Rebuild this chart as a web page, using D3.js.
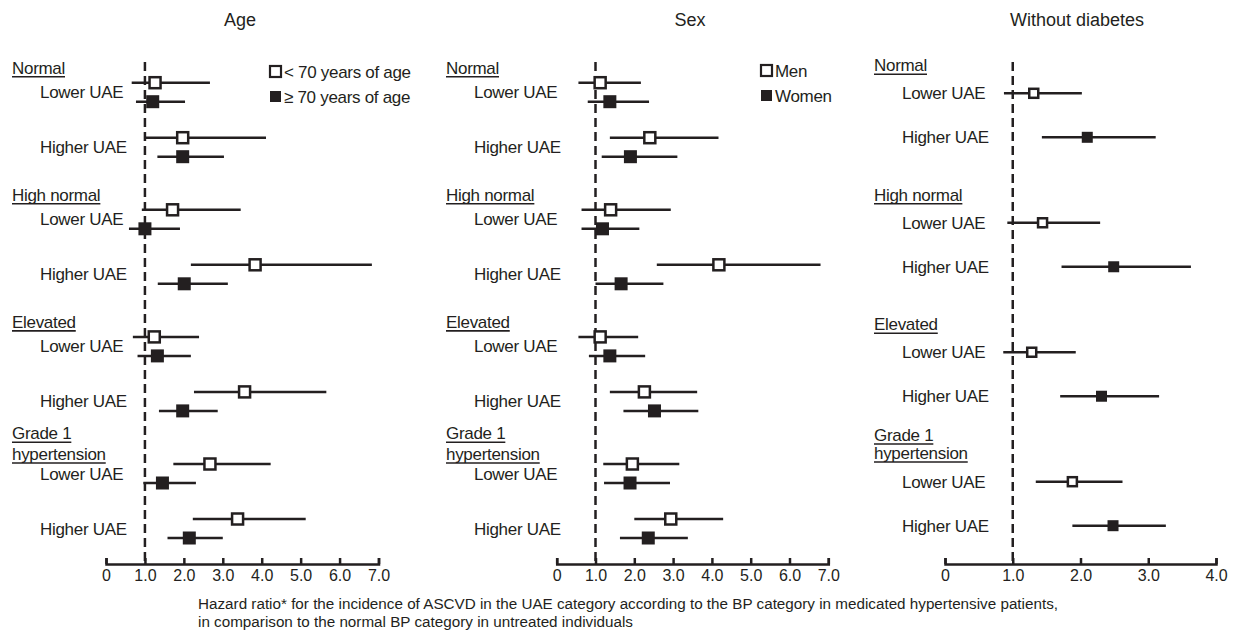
<html>
<head>
<script src="https://cdnjs.cloudflare.com/ajax/libs/d3/7.8.5/d3.min.js"></script>
<style>
  body { margin: 0; background: #fff; }
  text { font-family: "Liberation Sans", Arial, sans-serif; fill: #231f20; }
</style>
</head>
<body>
<svg width="1237" height="631"></svg>
<script>
// categories
const groups = [['Normal'], ['High normal'], ['Elevated'], ['Grade 1', 'hypertension']]
const rows = ['Lower UAE', 'Higher UAE']

// Age panel: 8 rows each (group x lower/higher)
const youngHR = [1.26, 1.97, 1.71, 3.83, 1.24, 3.56, 2.67, 3.38]
const youngLo = [0.66, 0.98, 0.92, 2.18, 0.69, 2.26, 1.73, 2.23]
const youngHi = [2.67, 4.11, 3.46, 6.83, 2.39, 5.66, 4.23, 5.13]
const oldHR = [1.20, 1.97, 1.00, 2.01, 1.32, 1.97, 1.45, 2.14]
const oldLo = [0.77, 1.32, 0.59, 1.33, 0.81, 1.36, 0.96, 1.58]
const oldHi = [2.03, 3.03, 1.90, 3.13, 2.18, 2.87, 2.31, 3.00]

// Sex panel
const menHR = [1.12, 2.40, 1.39, 4.18, 1.12, 2.26, 1.95, 2.94]
const menLo = [0.56, 1.37, 0.64, 2.58, 0.56, 1.37, 1.20, 2.00]
const menHi = [2.17, 4.17, 2.94, 6.80, 2.10, 3.62, 3.16, 4.29]
const womenHR = [1.37, 1.90, 1.18, 1.66, 1.37, 2.52, 1.89, 2.36]
const womenLo = [0.80, 1.16, 0.64, 1.00, 0.83, 1.72, 1.22, 1.63]
const womenHi = [2.38, 3.11, 2.13, 2.75, 2.28, 3.65, 2.92, 3.38]

// Without diabetes panel
const noDmHR = [1.31, 2.10, 1.44, 2.49, 1.28, 2.31, 1.88, 2.48]
const noDmLo = [0.87, 1.43, 0.92, 1.72, 0.86, 1.70, 1.34, 1.88]
const noDmHi = [2.02, 3.11, 2.29, 3.63, 1.93, 3.16, 2.62, 3.26]

const ticks7 = [0, 1, 2, 3, 4, 5, 6, 7]
const ticks4 = [0, 1, 2, 3, 4]

const ink = '#231f20'
const svg = d3.select('svg')
const axisY = 564
const dashTop = 62

const fmt = v => v === 0 ? '0' : v.toFixed(1)

const underlinedLabel = (g, x, y, txt) => {
  const t = g.append('text').attr('x', x).attr('y', y).attr('font-size', 17)
    .attr('letter-spacing', '-0.3').text(txt)
  const w = t.node().getComputedTextLength()
  g.append('line').attr('x1', x).attr('x2', x + w).attr('y1', y + 3).attr('y2', y + 3)
    .attr('stroke', ink).attr('stroke-width', 1.6)
}

const drawPanel = p => {
  const g = svg.append('g')
  const x = d3.scaleLinear().domain([0, p.max]).range(p.range)

  g.append('text').attr('x', p.titleX).attr('y', 26).attr('text-anchor', 'middle')
    .attr('font-size', 18).text(p.title)

  // axis (ticks pointing up)
  const axis = d3.axisBottom(x).tickValues(p.ticks).tickFormat(fmt)
    .tickSizeInner(-6).tickSizeOuter(-6).tickPadding(6)
  const ax = g.append('g').attr('transform', `translate(0,${axisY})`).call(axis)
  ax.select('.domain').attr('stroke', ink).attr('stroke-width', 2.5)
  ax.selectAll('.tick line').attr('stroke', ink).attr('stroke-width', 2.5)
  ax.selectAll('.tick text').attr('font-size', 16).attr('fill', ink)
    .attr('font-family', '"Liberation Sans", Arial, sans-serif')

  // reference line at HR = 1
  g.append('line').attr('x1', x(1)).attr('x2', x(1)).attr('y1', dashTop).attr('y2', axisY)
    .attr('stroke', ink).attr('stroke-width', 2.5).attr('stroke-dasharray', '9,5')

  const gy = d3.scaleLinear().domain([0, 3]).range(p.yRange)

  // labels
  groups.forEach((lines, gi) => {
    const base = gy(gi)
    lines.forEach((l, li) => {
      const off = lines.length === 1 ? p.groupOff : p.groupOff2[li]
      underlinedLabel(g, p.labelX, base + off + 6, l)
    })
    rows.forEach((r, ri) => {
      g.append('text').attr('x', p.rowX).attr('y', base + ri * p.rowStep + p.rowLabelOff + 6)
        .attr('font-size', 17).attr('letter-spacing', '-0.3').text(r)
    })
  })

  // series
  p.series.forEach(s => {
    const data = s.hr.map((v, i) => ({ v, lo: s.lo[i], hi: s.hi[i], gi: Math.floor(i / 2), ri: i % 2 }))
      .filter(d => !s.only || d.ri === s.only - 1)
    const yOf = d => gy(d.gi) + d.ri * p.rowStep + s.dy
    g.append('g').selectAll('line').data(data).join('line')
      .attr('x1', d => x(d.lo)).attr('x2', d => x(d.hi))
      .attr('y1', yOf).attr('y2', yOf)
      .attr('stroke', ink).attr('stroke-width', 2.5)
    const half = s.size / 2
    g.append('g').selectAll('rect').data(data).join('rect')
      .attr('x', d => x(d.v) - half).attr('y', d => yOf(d) - half)
      .attr('width', s.size).attr('height', s.size)
      .attr('fill', s.open ? '#fff' : ink)
      .attr('stroke', ink).attr('stroke-width', s.open ? 2.5 : 0)
  })

  // legend
  if (p.legend) {
    p.legend.forEach((l, i) => {
      const ly = p.legendY + i * 25
      g.append('rect').attr('x', p.legendX).attr('y', ly - 5.5).attr('width', 11).attr('height', 11)
        .attr('fill', l.open ? '#fff' : ink).attr('stroke', ink).attr('stroke-width', l.open ? 2.2 : 0)
      g.append('text').attr('x', p.legendX + 14).attr('y', ly + 6).attr('font-size', 17)
        .attr('letter-spacing', '-0.3').text(l.label)
    })
  }
}

drawPanel({
  title: 'Age', titleX: 240, max: 7, ticks: ticks7, range: [106, 378.5],
  yRange: [82.7, 464], rowStep: 55, rowLabelOff: 9.5,
  groupOff: -15, groupOff2: [-30.7, -10], labelX: 12, rowX: 40,
  series: [
    { hr: youngHR, lo: youngLo, hi: youngHi, open: true, size: 11, dy: 0 },
    { hr: oldHR, lo: oldLo, hi: oldHi, open: false, size: 13, dy: 19 }
  ],
  legend: [{ label: '< 70 years of age', open: true }, { label: '≥ 70 years of age', open: false }],
  legendX: 270, legendY: 71.5
})

drawPanel({
  title: 'Sex', titleX: 690, max: 7, ticks: ticks7, range: [556.7, 828.3],
  yRange: [82.7, 464], rowStep: 55, rowLabelOff: 9.5,
  groupOff: -15, groupOff2: [-30.7, -10], labelX: 446, rowX: 474,
  series: [
    { hr: menHR, lo: menLo, hi: menHi, open: true, size: 11, dy: 0 },
    { hr: womenHR, lo: womenLo, hi: womenHi, open: false, size: 13, dy: 19 }
  ],
  legend: [{ label: 'Men', open: true }, { label: 'Women', open: false }],
  legendX: 761, legendY: 70.5
})

drawPanel({
  title: 'Without  diabetes', titleX: 1077, max: 4, ticks: ticks4, range: [945, 1216],
  yRange: [93.3, 481.7], rowStep: 44, rowLabelOff: 0,
  groupOff: -28, groupOff2: [-46.7, -28.7], labelX: 874, rowX: 902,
  series: [
    { hr: noDmHR, lo: noDmLo, hi: noDmHi, open: true, size: 9, dy: 0, only: 1 },
    { hr: noDmHR, lo: noDmLo, hi: noDmHi, open: false, size: 11, dy: 0, only: 2 }
  ]
})

// caption: both lines squeezed by the same factor
const cap = svg.append('g')
const c1 = cap.append('text').attr('x', 198).attr('y', 609).attr('font-size', 14)
  .text('Hazard ratio* for the incidence of ASCVD in the UAE category according to the BP category in medicated hypertensive patients,')
const c2 = cap.append('text').attr('x', 198).attr('y', 627).attr('font-size', 14)
  .text('in comparison to the normal BP category in untreated individuals')
const squeeze = 860 / c1.node().getComputedTextLength()
c1.attr('textLength', 860).attr('lengthAdjust', 'spacingAndGlyphs')
c2.attr('textLength', c2.node().getComputedTextLength() * squeeze).attr('lengthAdjust', 'spacingAndGlyphs')
</script>
</body>
</html>
